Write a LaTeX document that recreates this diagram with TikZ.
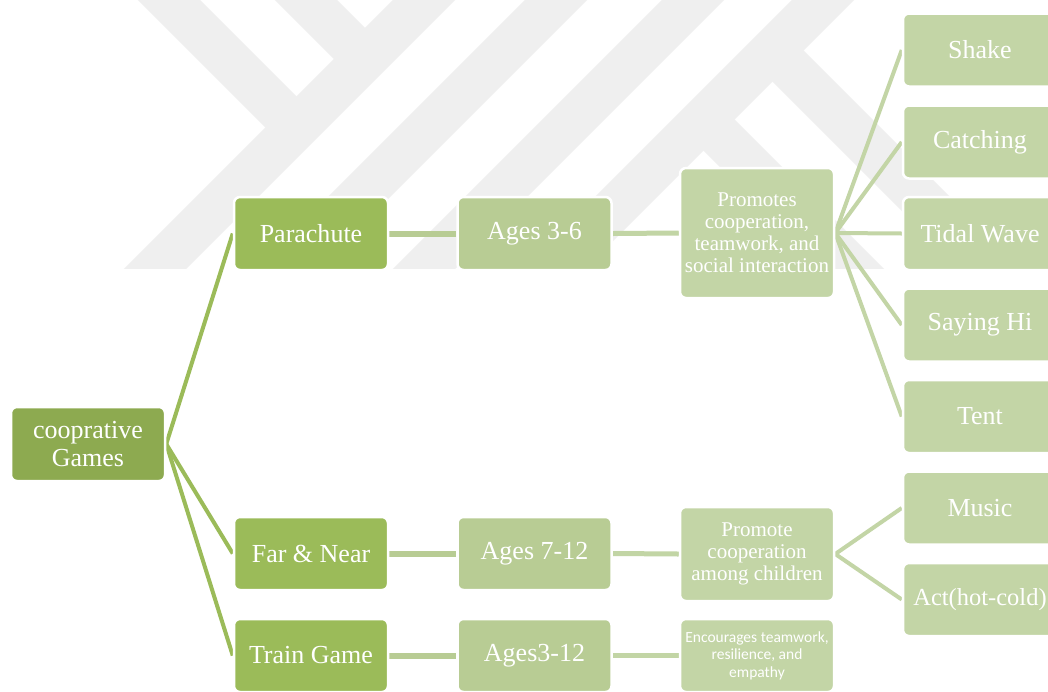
\documentclass[tikz,border=0pt]{standalone}
\usepackage{fontspec}
\setmainfont{Liberation Serif}
\newfontfamily\calib{Carlito}
\usetikzlibrary{backgrounds}
\definecolor{rootc}{HTML}{8DAA50}
\definecolor{lvlone}{HTML}{9BBB59}
\definecolor{agesc}{HTML}{B8CC94}
\definecolor{leafc}{HTML}{C3D5A6}
\definecolor{wmc}{HTML}{EFEFEF}
\begin{document}
\begin{tikzpicture}[x=1pt,y=-1pt,
  box/.style={rectangle, rounded corners=6pt, draw=white, line width=2.5pt,
    text=white, align=center, minimum width=154pt, minimum height=73pt,
    inner sep=2pt, font=\rmfamily\fontsize{26}{28}\selectfont},
  rootbox/.style={box, fill=rootc, minimum height=74pt},
  onebox/.style={box, fill=lvlone},
  agebox/.style={box, fill=agesc},
  leafbox/.style={box, fill=leafc},
  descbox/.style={box, fill=leafc, font=\rmfamily\fontsize{21}{22}\selectfont},
  wm/.style={draw=wmc, line width=44pt, line cap=butt},
  linkone/.style={draw=lvlone, line width=4pt},
  linktwo/.style={draw=agesc, line width=6pt},
  linkthree/.style={draw=leafc!95!agesc, line width=5pt},
  linkfour/.style={draw=leafc, line width=4pt}]
\useasboundingbox (0,0) rectangle (1048,691);
\clip (0,0) rectangle (1048,691);
% nodes
\node[rootbox] (root) at (88,444) {cooprative\\Games};
\node[onebox] (para) at (311,233.5) {Parachute};
\node[onebox] (far) at (311,553.5) {Far \& Near};
\node[onebox] (train) at (311,655.5) {Train Game};
\node[agebox] (agesa) at (534.5,233.5) {Ages 3-6};
\node[agebox] (agesb) at (534.5,553.5) {Ages 7-12};
\node[agebox] (agesc) at (534.5,655.5) {Ages3-12};
\node[descbox, minimum height=130pt] (proma) at (757,233) {Promotes\\cooperation,\\teamwork, and\\social interaction};
\node[descbox, minimum height=94pt] (promb) at (757,554) {Promote\\cooperation\\among children};
\node[leafbox, font=\calib\fontsize{15.5}{17.5}\selectfont] (enc) at (757,655.5) {Encourages teamwork,\\resilience, and\\empathy};
\node[leafbox] (shake) at (980,50) {Shake};
\node[leafbox] (catch) at (980,142) {Catching};
\node[leafbox] (tidal) at (980,233.5) {Tidal Wave};
\node[leafbox] (hi) at (980,325) {Saying Hi};
\node[leafbox] (tent) at (980,416.5) {Tent};
\node[leafbox] (music) at (980,508) {Music};
\node[leafbox, font=\rmfamily\fontsize{24.5}{27}\selectfont] (act) at (980,599.5) {Act(hot-cold)};
\begin{pgfonlayer}{background}
\fill[white] (0,0) rectangle (1048,691);
% watermark
\begin{scope}
\clip (0,0) rectangle (1048,268);
\draw[wm] (474,-50) -- (124,300);
\draw[wm] (606,-50) -- (256,300);
\draw[wm] (743,-50) -- (393,300);
\draw[wm] (873,-50) -- (523,300);
\draw[wm] (119,-50) -- (296.5,127.5);
\draw[wm] (256,-50) -- (365,59);
\draw[wm] (772.5,50.5) -- (1022,300);
\draw[wm] (703.5,119.5) -- (884,300);
\end{scope}
% connectors
\path[linkone] (root.east) -- (para.west);
\path[linkone] (root.east) -- (far.west);
\path[linkone] (root.east) -- (train.west);
\path[linktwo] (para.east) -- (agesa.west);
\path[linktwo] (far.east) -- (agesb.west);
\path[linktwo] (train.east) -- (agesc.west);
\path[linkthree] (agesa.east) -- (proma.west);
\path[linkthree] (agesb.east) -- (promb.west);
\path[linkthree] (agesc.east) -- (enc.west);
\foreach \t in {shake,catch,tidal,hi,tent}
  \path[linkfour] (proma.east) -- (\t.west);
\foreach \t in {music,act}
  \path[linkfour] (promb.east) -- (\t.west);
\end{pgfonlayer}
\end{tikzpicture}
\end{document}
